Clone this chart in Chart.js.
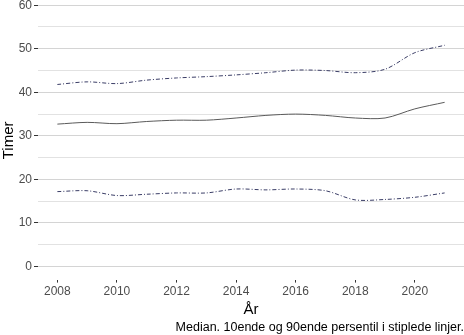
<!DOCTYPE html>
<html>
<head>
<meta charset="utf-8">
<script src="https://cdn.jsdelivr.net/npm/chart.js@4"></script>
<style>
  html, body { margin: 0; padding: 0; background: #fff; overflow: hidden; }
  /* top of the panel is cut off in the reference, so push the canvas up a bit */
  #wrap { width: 464px; height: 343px; margin-top: -8px; }
</style>
</head>
<body>
<div id="wrap"><canvas id="chart-canvas"></canvas></div>
<script>
const chart = document.getElementById("chart-canvas");

// Data
const years = [2008, 2009, 2010, 2011, 2012, 2013, 2014, 2015, 2016, 2017, 2018, 2019, 2020, 2021];
const median = [32.7, 33.1, 32.8, 33.3, 33.6, 33.6, 34.1, 34.7, 35.0, 34.7, 34.1, 34.1, 36.2, 37.7];
const p10 = [17.2, 17.4, 16.3, 16.6, 16.9, 16.9, 17.8, 17.6, 17.8, 17.4, 15.3, 15.4, 15.9, 16.9];
const p90 = [41.8, 42.4, 42.0, 42.8, 43.3, 43.6, 44.0, 44.5, 45.1, 45.0, 44.5, 45.3, 49.1, 50.8];
const xTicks = [2008, 2010, 2012, 2014, 2016, 2018, 2020];
const yTicks = [0, 10, 20, 30, 40, 50, 60];
// ======================

const toPoints = (vals) => vals.map((v, i) => ({ x: years[i], y: v }));

const dashDot = [4, 2, 1, 2];

const chartData = {
  datasets: [{
    label: "Median",
    data: toPoints(median),
    borderColor: "#5a5a5a",
    borderWidth: 1,
    pointRadius: 0,
    tension: 0.3
  },
  {
    label: "10ende persentil",
    data: toPoints(p10),
    borderColor: "#3a3d66",
    borderWidth: 1,
    borderDash: dashDot,
    pointRadius: 0,
    tension: 0.3
  },
  {
    label: "90ende persentil",
    data: toPoints(p90),
    borderColor: "#3a3d66",
    borderWidth: 1,
    borderDash: dashDot,
    pointRadius: 0,
    tension: 0.3
  }]
};

const tickFont = { family: "Liberation Sans, Arial, sans-serif", size: 12 };
const titleFont = { family: "Liberation Sans, Arial, sans-serif", size: 15 };

const options = {
  animation: false,
  responsive: true,
  maintainAspectRatio: false,
  layout: { autoPadding: false, padding: { top: 0, right: 0, left: 0, bottom: 0 } },
  plugins: {
    legend: false,
    tooltip: { enabled: false },
    subtitle: {
      display: true,
      text: "Median. 10ende og 90ende persentil i stiplede linjer.",
      position: "bottom",
      align: "end",
      color: "#000",
      font: { family: "Liberation Sans, Arial, sans-serif", size: 12.5 },
      padding: { top: 0, bottom: 0 }
    }
  },
  scales: {
    x: {
      type: "linear",
      min: 2007.35,
      max: 2021.65,
      afterBuildTicks: (axis) => { axis.ticks = xTicks.map(v => ({ value: v })); },
      border: { display: false },
      grid: {
        drawOnChartArea: false,
        drawTicks: true,
        tickLength: 3,
        tickColor: "#333"
      },
      ticks: {
        color: "#4d4d4d",
        font: tickFont,
        padding: 2,
        maxRotation: 0,
        callback: (v) => String(v)
      },
      title: {
        display: true,
        text: "År",
        color: "#000",
        font: titleFont,
        padding: { top: 0, bottom: 1 }
      }
    },
    y: {
      min: -3,
      max: 60.92,
      afterBuildTicks: (axis) => {
        const t = [];
        for (let v = 0; v <= 60; v += 5) t.push({ value: v });
        axis.ticks = t;
      },
      afterFit: (axis) => { axis.width = 38; },
      border: { display: false },
      grid: {
        color: (ctx) => (ctx.tick && ctx.tick.value % 10 === 0) ? "#d4d4d4" : "#e2e2e2",
        lineWidth: 1,
        tickLength: 4,
        tickColor: (ctx) => (ctx.tick && ctx.tick.value % 10 === 0) ? "#333" : "rgba(0,0,0,0)"
      },
      ticks: {
        color: "#4d4d4d",
        font: tickFont,
        padding: 2,
        callback: (v) => yTicks.includes(v) ? String(v) : ""
      },
      title: {
        display: true,
        text: "Timer",
        color: "#000",
        font: titleFont,
        padding: { top: 0, bottom: 0 }
      }
    }
  }
};

const config = {
  type: "line",
  data: chartData,
  options: options
};

new Chart(chart, config);
</script>
</body>
</html>
